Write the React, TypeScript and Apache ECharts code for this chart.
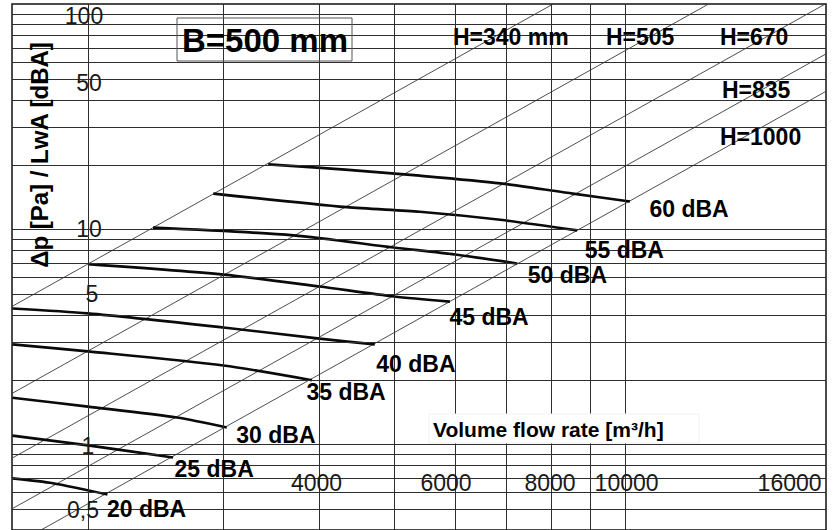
import React, { useEffect, useRef } from "react";
import * as echarts from "echarts";

// ---- axis ranges & grid/tick values ----
const xRange = [1593, 18220];
const yRange = [0.4, 112];
const hGridValues = [0.5, 0.6, 0.7, 0.8, 0.9, 1, 2, 3, 4, 5, 6, 7, 8, 9, 10, 20, 30, 40, 50, 60, 70, 80, 90, 100];
const vGridValues = [2000, 3000, 4000, 5000, 6000, 7000, 8000, 9000, 10000];
const yTickValues = [100, 50, 10, 5, 1, 0.5];
const yTickTexts = ["100", "50", "10", "5", "1", "0,5"];
const xTickValues = [4000, 6000, 8000, 10000, 16000];
const xTickTexts = ["4000", "6000", "8000", "10000", "16000"];
const xTickRowValue = 0.665;

// ---- duct height lines (Δp ~ V²) ----
const heightNames = ["H=340 mm", "H=505", "H=670", "H=835", "H=1000"];
const h340 = [[1590, 4.37], [8050, 112]];
const h505 = [[1590, 1.72], [12820, 112]];
const h670 = [[1590, 0.86], [18230, 112.6]];
const h835 = [[1590, 0.5], [18230, 65.7]];
const h1000 = [[1590, 0.335], [18230, 44.0]];
const heightLines = [h340, h505, h670, h835, h1000];

// ---- noise level curves ----
const curveNames = ["60 dBA", "55 dBA", "50 dBA", "45 dBA", "40 dBA", "35 dBA", "30 dBA", "25 dBA", "20 dBA"];
const c60 = [[3430, 20.1], [4320, 19.0], [5400, 17.8], [6870, 16.4], [8540, 14.7], [10130, 13.5]];
const c55 = [[2910, 14.7], [4340, 12.7], [5400, 12.1], [6870, 11.1], [8650, 9.9]];
const c50 = [[2430, 10.2], [3700, 9.4], [4990, 8.25], [6000, 7.65], [7230, 6.95]];
const c45 = [[2000, 6.9], [3000, 6.17], [4000, 5.43], [5000, 4.88], [5910, 4.62]];
const c40 = [[1595, 4.29], [2000, 4.07], [3000, 3.5], [4000, 3.11], [4720, 2.92]];
const c35 = [[1595, 2.92], [2000, 2.71], [3000, 2.33], [3910, 1.99]];
const c30 = [[1595, 1.65], [2000, 1.5], [2610, 1.335], [3030, 1.2]];
const c25 = [[1595, 1.1], [2000, 0.99], [2580, 0.87]];
const c20 = [[1595, 0.695], [1800, 0.66], [2120, 0.585]];
const curves = [c60, c55, c50, c45, c40, c35, c30, c25, c20];

// ---- styling (label placement, px) ----
const FONT = "'Liberation Sans', Arial, Helvetica, sans-serif";
const curveLabelPos = [[20, 8], [8, 20], [11, 12], [0, 16], [2, 20], [-5, 12], [10, 8], [2, 12], [0, 15]];
const yTickOffsets = [[-4, 1], [1, 4], [1, -1], [4, 0], [0, 2], [-5, 1]];
const xTickOffsets = [[-3, 0], [-9, 0], [-1, 0], [1, 0], [7, 0]];
const heightLabelPos = [[453, 37], [606, 37], [720, 37], [722, 90], [720, 137]];

export default function App() {
  const ref = useRef<HTMLDivElement>(null);
  useEffect(() => {
    const chart = echarts.init(ref.current as HTMLDivElement, null, { renderer: "svg" });
    const series: any[] = [];
    series.push({
      type: "line",
      name: "grid",
      data: [[2000, 1]],
      symbol: "none",
      lineStyle: { opacity: 0 },
      silent: true,
      z: 1,
      markLine: {
        silent: true,
        symbol: ["none", "none"],
        label: { show: false },
        emphasis: { disabled: true },
        lineStyle: { color: "#2e2e2e", width: 1, type: "solid" },
        data: [
          ...hGridValues.map((v) => ({ yAxis: v })),
          ...vGridValues.map((v) => ({ xAxis: v })),
        ],
      },
    });
    heightLines.forEach((d, i) => {
      series.push({
        type: "line",
        name: heightNames[i],
        data: d,
        symbol: "none",
        silent: true,
        z: 2,
        lineStyle: { color: "#3a3a3a", width: 0.9 },
      });
    });
    curves.forEach((d, i) => {
      series.push({
        type: "line",
        name: curveNames[i],
        data: d,
        symbol: "none",
        smooth: 0.25,
        silent: true,
        z: 3,
        lineStyle: { color: "#0a0a0a", width: 2.7 },
      });
    });
    const labelItemStyle = { color: "rgba(0,0,0,0)", opacity: 1 };
    series.push({
      type: "scatter",
      name: "curveLabels",
      symbol: "circle",
      symbolSize: 1,
      itemStyle: labelItemStyle,
      silent: true,
      z: 5,
      data: curves.map((d, i) => ({
        value: d[d.length - 1],
        name: curveNames[i],
        label: { position: curveLabelPos[i] },
      })),
      label: {
        show: true,
        formatter: (p: any) => p.name,
        align: "left",
        verticalAlign: "middle",
        fontFamily: FONT,
        fontWeight: "bold",
        fontSize: 23,
        color: "#000",
      },
    });
    series.push({
      type: "scatter",
      name: "yTicks",
      symbol: "circle",
      symbolSize: 1,
      itemStyle: labelItemStyle,
      silent: true,
      z: 5,
      data: yTickValues.map((v, i) => ({
        value: [2000, v],
        name: yTickTexts[i],
        label: { offset: yTickOffsets[i] },
      })),
      label: {
        show: true,
        position: "inside",
        formatter: (p: any) => p.name,
        align: "center",
        verticalAlign: "middle",
        fontFamily: FONT,
        fontSize: 23,
        color: "#1a1a1a",
        textBorderWidth: 0,
      },
    });
    series.push({
      type: "scatter",
      name: "xTicks",
      symbol: "circle",
      symbolSize: 1,
      itemStyle: labelItemStyle,
      silent: true,
      z: 5,
      data: xTickValues.map((v, i) => ({
        value: [v, xTickRowValue],
        name: xTickTexts[i],
        label: { offset: xTickOffsets[i] },
      })),
      label: {
        show: true,
        position: "inside",
        formatter: (p: any) => p.name,
        align: "center",
        verticalAlign: "middle",
        fontFamily: FONT,
        fontSize: 23,
        color: "#1a1a1a",
        textBorderWidth: 0,
      },
    });

    const graphic: any[] = [
      {
        type: "rect",
        z: 100,
        shape: { x: 177, y: 18, width: 175, height: 43 },
        style: { fill: "none", stroke: "#555", lineWidth: 1 },
      },
      {
        type: "text",
        z: 101,
        x: 265,
        y: 40,
        style: {
          text: "B=500 mm",
          font: `bold 33px ${FONT}`,
          fill: "#000",
          align: "center",
          textAlign: "center",
          verticalAlign: "middle",
          textVerticalAlign: "middle",
        },
      },
      {
        type: "rect",
        z: 100,
        shape: { x: 429, y: 414, width: 270, height: 29 },
        style: { fill: "#ffffff", stroke: "#f2f2f2", lineWidth: 1 },
      },
      {
        type: "text",
        z: 101,
        x: 433,
        y: 429,
        style: {
          text: "Volume flow rate [m³/h]",
          font: `bold 21px ${FONT}`,
          fill: "#000",
          align: "left",
          textAlign: "left",
          verticalAlign: "middle",
          textVerticalAlign: "middle",
        },
      },
      {
        type: "text",
        z: 101,
        x: 39,
        y: 155,
        rotation: Math.PI / 2,
        style: {
          text: "Δp [Pa] / LwA [dBA]",
          font: `bold 24px ${FONT}`,
          fill: "#000",
          align: "center",
          textAlign: "center",
          verticalAlign: "middle",
          textVerticalAlign: "middle",
        },
      },
      ...heightNames.map((n, i) => ({
        type: "text",
        z: 101,
        x: heightLabelPos[i][0],
        y: heightLabelPos[i][1],
        style: {
          text: n,
          font: `bold 23px ${FONT}`,
          fill: "#000",
          align: "left",
          textAlign: "left",
          verticalAlign: "middle",
          textVerticalAlign: "middle",
        },
      })),
    ];

    chart.setOption({
      animation: false,
      backgroundColor: "#ffffff",
      grid: {
        left: 12,
        right: 14,
        top: 4,
        bottom: 0,
        show: true,
        borderColor: "#111",
        borderWidth: 1.5,
        backgroundColor: "transparent",
      },
      xAxis: {
        type: "log",
        logBase: 10,
        min: xRange[0],
        max: xRange[1],
        axisLine: { show: false },
        axisTick: { show: false },
        axisLabel: { show: false },
        splitLine: { show: false },
      },
      yAxis: {
        type: "log",
        logBase: 10,
        min: yRange[0],
        max: yRange[1],
        axisLine: { show: false },
        axisTick: { show: false },
        axisLabel: { show: false },
        splitLine: { show: false },
      },
      series,
      graphic,
    });
    return () => chart.dispose();
  }, []);
  return (
    <div
      ref={ref}
      style={{ position: "fixed", left: 0, top: 0, width: 840, height: 530 }}
    />
  );
}
